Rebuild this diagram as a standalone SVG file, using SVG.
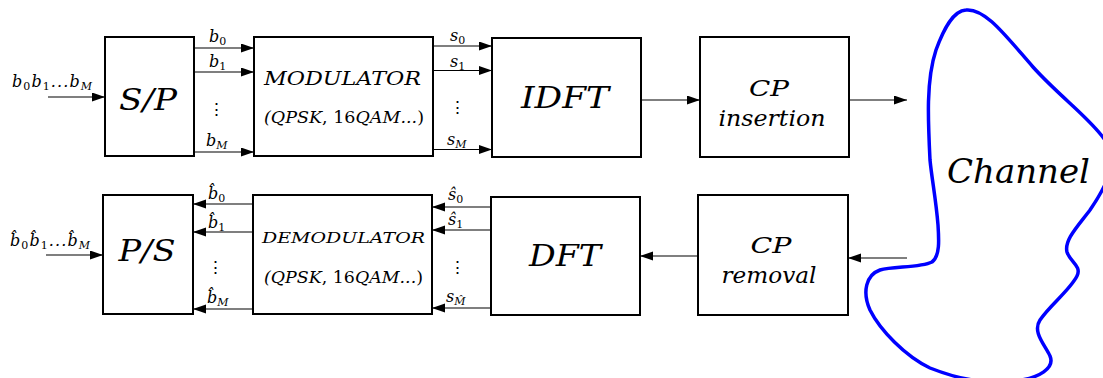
<svg xmlns="http://www.w3.org/2000/svg" width="1103" height="378" viewBox="0 0 1103 378">
<style>
.box{fill:#fff;stroke:#000;stroke-width:2}
.ln{stroke:#000;stroke-width:1.2;fill:none;marker-end:url(#ah)}
text{font-family:'DejaVu Serif','Liberation Serif',serif;font-style:italic;fill:#000}
.big{font-size:30px;text-anchor:middle}
.mid{font-size:22px;text-anchor:middle}
.sm{font-size:16px}
.dots{font-style:normal;font-size:17px;text-anchor:middle}
.sub{font-size:11px;font-style:normal}
.subi{font-size:11px}
</style>
<defs>
<marker id="ah" markerUnits="userSpaceOnUse" markerWidth="13" markerHeight="10" refX="13" refY="4.5" orient="auto">
<path d="M0,0 L13,4.5 L0,9 z" fill="#000"/>
</marker>
</defs>

<g id="channel">
<path d="M966,10 C985,8 1005,35 1033,67 C1060,97 1090,118 1105,140 C1120,162 1105,188 1090,210 C1078,226 1064,240 1067,252 C1070,262 1082,266 1077,276 C1070,290 1050,305 1040,320 C1032,332 1045,345 1050,356 C1055,368 1040,378 1015,381 C990,384 960,380 930,368 C905,356 880,330 870,310 C862,292 866,275 880,270 C893,266 920,268 932,262 C940,256 939,240 938,225 C936,200 932,180 930,160 C928,120 926,80 936,50 C944,28 953,11 966,10 Z" fill="none" stroke="#0000ff" stroke-width="3.5"/>
<text x="947" y="183" font-size="34" textLength="143" lengthAdjust="spacingAndGlyphs">Channel</text>
</g>

<g id="sp">
<rect class="box" x="105" y="37" width="89" height="119"/>
<text class="big" x="148" y="110" textLength="58" lengthAdjust="spacingAndGlyphs">S/P</text>
</g>
<g id="modulator">
<rect class="box" x="254" y="37" width="179" height="119"/>
<text x="264" y="85" font-size="18" textLength="157" lengthAdjust="spacingAndGlyphs">MODULATOR</text>
<text x="264" y="123" font-size="17" textLength="160" lengthAdjust="spacingAndGlyphs">(QPSK<tspan font-style="normal">, 16</tspan>QAM...<tspan font-style="normal">)</tspan></text>
</g>
<g id="idft">
<rect class="box" x="492" y="38" width="149" height="119"/>
<text class="big" x="565" y="108" textLength="88" lengthAdjust="spacingAndGlyphs">IDFT</text>
</g>
<g id="cpins">
<rect class="box" x="700" y="37" width="149" height="120"/>
<text class="mid" x="769" y="96" textLength="40" lengthAdjust="spacingAndGlyphs">CP</text>
<text class="mid" x="772" y="126" textLength="107" lengthAdjust="spacingAndGlyphs">insertion</text>
</g>
<g id="ps">
<rect class="box" x="103" y="195" width="90" height="119"/>
<text class="big" x="147" y="261" textLength="57" lengthAdjust="spacingAndGlyphs">P/S</text>
</g>
<g id="demodulator">
<rect class="box" x="253" y="195" width="179" height="119"/>
<text x="262" y="243" font-size="15" textLength="163" lengthAdjust="spacingAndGlyphs">DEMODULATOR</text>
<text x="264" y="283" font-size="17" textLength="159" lengthAdjust="spacingAndGlyphs">(QPSK<tspan font-style="normal">, 16</tspan>QAM...<tspan font-style="normal">)</tspan></text>
</g>
<g id="dft">
<rect class="box" x="491" y="197" width="149" height="118"/>
<text class="big" x="565" y="266" textLength="72" lengthAdjust="spacingAndGlyphs">DFT</text>
</g>
<g id="cprem">
<rect class="box" x="698" y="195" width="150" height="120"/>
<text class="mid" x="771" y="253" textLength="41" lengthAdjust="spacingAndGlyphs">CP</text>
<text class="mid" x="769" y="283" textLength="95" lengthAdjust="spacingAndGlyphs">removal</text>
</g>

<g id="connectors">
<line class="ln" x1="48" y1="97" x2="105" y2="97"/>
<line class="ln" x1="194" y1="48" x2="254" y2="48"/>
<line class="ln" x1="194" y1="72" x2="254" y2="72"/>
<line class="ln" x1="194" y1="152" x2="254" y2="152"/>
<line class="ln" x1="433" y1="46" x2="492" y2="46"/>
<line class="ln" x1="433" y1="70.5" x2="492" y2="70.5"/>
<line class="ln" x1="433" y1="149.5" x2="492" y2="149.5"/>
<line class="ln" x1="641" y1="100" x2="700" y2="100"/>
<line class="ln" x1="849" y1="100" x2="907" y2="100"/>
<line class="ln" x1="907" y1="258" x2="848" y2="258"/>
<line class="ln" x1="698" y1="256" x2="640" y2="256"/>
<line class="ln" x1="491" y1="207" x2="432" y2="207"/>
<line class="ln" x1="491" y1="230" x2="432" y2="230"/>
<line class="ln" x1="491" y1="308" x2="432" y2="308"/>
<line class="ln" x1="253" y1="204" x2="193" y2="204"/>
<line class="ln" x1="253" y1="232" x2="193" y2="232"/>
<line class="ln" x1="253" y1="309" x2="193" y2="309"/>
<line class="ln" x1="46" y1="255" x2="103" y2="255"/>
</g>

<g id="labels">
<text class="sm" x="12" y="87" textLength="80" lengthAdjust="spacing">b<tspan class="sub" dy="3">0</tspan><tspan dy="-3">b</tspan><tspan class="sub" dy="3">1</tspan><tspan dy="-3">...b</tspan><tspan class="subi" dy="3">M</tspan></text>
<text class="sm" x="209" y="42">b<tspan class="sub" dy="3">0</tspan></text>
<text class="sm" x="209" y="67">b<tspan class="sub" dy="3">1</tspan></text>
<text class="sm" x="206" y="146">b<tspan class="subi" dy="3">M</tspan></text>
<text class="dots" x="216" y="115">⋮</text>
<text class="sm" x="450" y="41">s<tspan class="sub" dy="3">0</tspan></text>
<text class="sm" x="450" y="67">s<tspan class="sub" dy="3">1</tspan></text>
<text class="sm" x="447" y="145">s<tspan class="subi" dy="3">M</tspan></text>
<text class="dots" x="457" y="113">⋮</text>

<text class="sm" x="10" y="246" textLength="80" lengthAdjust="spacing">b̂<tspan class="sub" dy="3">0</tspan><tspan dy="-3">b̂</tspan><tspan class="sub" dy="3">1</tspan><tspan dy="-3">...b̂</tspan><tspan class="subi" dy="3">M</tspan></text>
<text class="sm" x="208" y="199">b̂<tspan class="sub" dy="3">0</tspan></text>
<text class="sm" x="208" y="228">b̂<tspan class="sub" dy="3">1</tspan></text>
<text class="sm" x="207" y="303">b̂<tspan class="subi" dy="3">M</tspan></text>
<text class="dots" x="215" y="273">⋮</text>
<text class="sm" x="448" y="200">ŝ<tspan class="sub" dy="3">0</tspan></text>
<text class="sm" x="448" y="225">ŝ<tspan class="sub" dy="3">1</tspan></text>
<text class="sm" x="446" y="302">s<tspan class="subi" dy="3">M̂</tspan></text>
<text class="dots" x="457" y="273">⋮</text>
</g>
</svg>
